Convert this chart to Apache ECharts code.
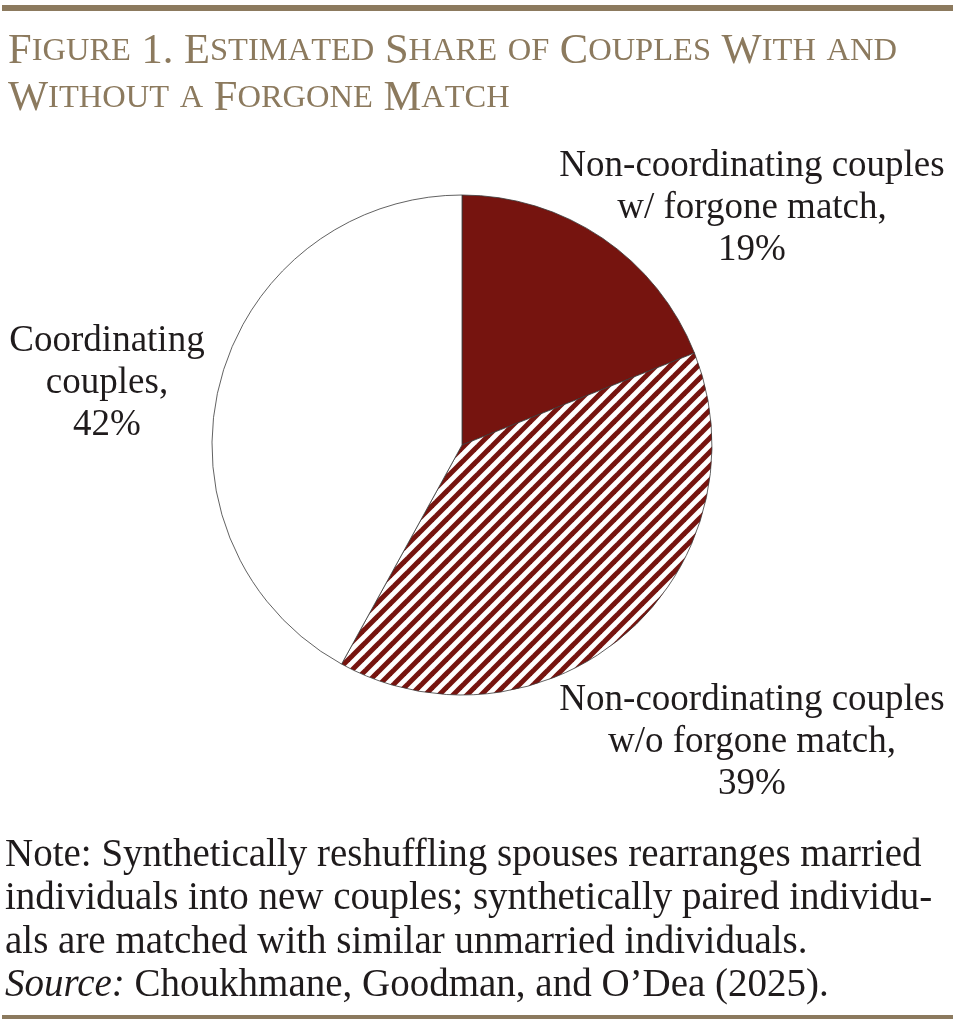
<!DOCTYPE html>
<html>
<head>
<meta charset="utf-8">
<script src="https://cdn.jsdelivr.net/npm/echarts@6/dist/echarts.min.js"></script>
<style>html,body{margin:0;padding:0;background:#fff}#c{width:956px;height:1024px}</style>
</head>
<body>
<div id="c"></div>
<script>
// ---- data ----
const categories = [
  'Non-coordinating couples\nw/ forgone match,',
  'Non-coordinating couples\nw/o forgone match,',
  'Coordinating\ncouples,'
];
const shares = [19, 39, 42];
const titleLines = ['Figure 1. Estimated Share of Couples With and', 'Without a Forgone Match'];
const noteLines = [
  'Note: Synthetically reshuffling spouses rearranges married',
  'individuals into new couples; synthetically paired individu-',
  'als are matched with similar unmarried individuals.'
];
const sourceText = 'Choukhmane, Goodman, and O\u2019Dea (2025).';

// ---- styling helpers ----
const RED = '#76140f';
const TAN = '#8c7a5e';
const INK = '#1f1b1c';
const SERIF = '"Liberation Serif", "DejaVu Serif", serif';

function hatch() {
  const s = 14;
  const cv = document.createElement('canvas');
  cv.width = s; cv.height = s;
  const g = cv.getContext('2d');
  g.fillStyle = '#fff';
  g.fillRect(0, 0, s, s);
  g.strokeStyle = RED;
  g.lineWidth = 5;
  g.lineCap = 'square';
  for (let c = -s; c <= 2 * s; c += s) {
    g.beginPath();
    g.moveTo(c, s);
    g.lineTo(c + s, 0);
    g.stroke();
  }
  return cv;
}

function smallCaps(str) {
  let out = '';
  for (const ch of str) {
    if (/[a-z]/.test(ch)) out += '{s|' + ch.toUpperCase() + '}';
    else out += '{b|' + ch + '}';
  }
  return out;
}

const chart = echarts.init(document.getElementById('c'), null, {renderer: 'canvas'});

const fills = [RED, {image: hatch(), repeat: 'repeat'}, '#ffffff'];
const labelPos = [
  {x: 752, y: 208},
  {x: 752, y: 742},
  {x: 107, y: 383}
];

chart.setOption({
  animation: false,
  title: titleLines.map((t, i) => ({
    text: smallCaps(t),
    left: 3,
    top: 25 + i * 47,
    textStyle: {
      fontWeight: 'normal',
      rich: {
        b: {fontFamily: SERIF, fontSize: 42.5, fontWeight: 'normal', color: TAN},
        s: {fontFamily: SERIF, fontSize: 32.5, fontWeight: 'normal', color: TAN}
      }
    }
  })),
  graphic: [
    {type: 'rect', shape: {x: 2, y: 5, width: 951, height: 6}, style: {fill: TAN}},
    {type: 'rect', shape: {x: 2, y: 1015, width: 951, height: 4}, style: {fill: TAN}},
    ...noteLines.map((t, i) => ({
      type: 'text', left: 5, top: 836 + i * 43.5,
      style: {text: t, font: '39px ' + SERIF, fill: INK}
    })),
    {
      type: 'text', left: 5, top: 836 + 3 * 43.5,
      style: {
        text: '{i|Source:}{n| ' + sourceText + '}',
        rich: {
          i: {fontFamily: SERIF, fontSize: 39, fontStyle: 'italic', fill: INK, color: INK},
          n: {fontFamily: SERIF, fontSize: 39, fill: INK, color: INK}
        }
      }
    }
  ],
  series: [{
    type: 'pie',
    center: [462, 445],
    radius: 250,
    startAngle: 90,
    clockwise: true,
    silent: true,
    data: categories.map((c, i) => ({
      name: c,
      value: shares[i],
      itemStyle: {color: fills[i], borderColor: '#3a3a3a', borderWidth: 0.8}
    })),
    label: {
      show: true,
      position: 'outside',
      overflow: 'none',
      formatter: p => p.name + '\n' + p.value + '%',
      fontFamily: SERIF,
      fontSize: 37,
      lineHeight: 42,
      color: INK,
      align: 'center'
    },
    labelLine: {show: false},
    labelLayout: p => ({
      x: labelPos[p.dataIndex].x,
      y: labelPos[p.dataIndex].y,
      align: 'center',
      verticalAlign: 'middle'
    })
  }]
});
</script>
</body>
</html>
